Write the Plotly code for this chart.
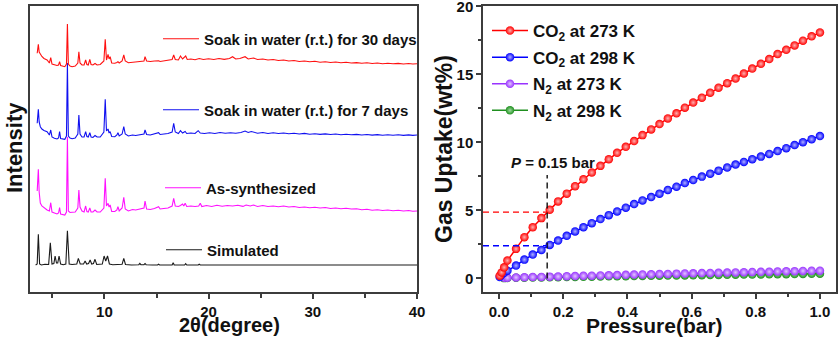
import plotly.graph_objects as go

# ---------------- XRD data (2theta in degree, stacked intensity in a.u.) ----------------
sim_points = [(3.4, 27), (3.55, 28), (3.66, 57.7), (3.78, 28), (3.95, 27), (4.3, 27.8), (4.65, 27.5),
              (4.81, 49.3), (4.97, 28), (5.15, 28.5), (5.27, 36), (5.4, 29), (5.52, 29), (5.65, 36),
              (5.8, 28), (6.05, 27.3), (6.3, 28), (6.45, 61.3), (6.62, 28), (6.9, 27.5), (7.35, 28),
              (7.5, 33.7), (7.68, 28), (8.0, 28), (8.15, 31), (8.3, 28), (8.48, 28.5), (8.63, 32),
              (8.78, 28), (8.95, 28.5), (9.1, 32.7), (9.26, 27.5), (9.8, 28), (9.97, 36), (10.13, 31),
              (10.3, 36), (10.48, 28), (10.8, 27.3), (11.7, 27.8), (11.86, 33.7), (12.02, 27.5),
              (12.6, 27), (13.3, 27.3), (13.4, 28.7), (13.5, 27.3), (13.8, 27.3), (13.9, 28.5),
              (14.0, 27.3), (14.6, 27), (15.1, 27), (15.2, 27.8), (15.3, 27), (16.5, 27), (16.6, 29.3),
              (16.7, 27), (17.7, 27), (17.8, 28.3), (17.9, 27), (19.0, 27), (19.1, 27.8), (19.2, 27),
              (40.0, 27)]

as_points = [(3.55, 101), (3.6, 110), (3.66, 122.7), (3.74, 100), (3.85, 89), (4.0, 86), (4.2, 84),
             (4.5, 82), (4.72, 81), (4.85, 89.3), (4.97, 80), (5.2, 78.7), (5.45, 78), (5.6, 79),
             (5.7, 84.3), (5.8, 78), (6.05, 77.5), (6.2, 77), (6.36, 80), (6.45, 155), (6.54, 81),
             (6.7, 79.5), (6.9, 79.7), (7.2, 80), (7.45, 84), (7.55, 102), (7.66, 85), (7.85, 81),
             (8.05, 80), (8.2, 86), (8.32, 80.5), (8.45, 80), (8.6, 84), (8.72, 80), (8.9, 80),
             (9.1, 82), (9.3, 80), (9.6, 80), (9.95, 84), (10.08, 113.7), (10.2, 86), (10.35, 88.7),
             (10.45, 85), (10.55, 87), (10.7, 80.5), (11.0, 80.5), (11.2, 82), (11.3, 85.3),
             (11.42, 81), (11.7, 84), (11.86, 94.7), (12.0, 83), (12.3, 81), (12.7, 82.5), (13.0, 82),
             (13.4, 83), (13.8, 84), (13.9, 91), (14.05, 83), (14.4, 82.5), (14.8, 83.5), (15.2, 85.3),
             (15.35, 83), (15.7, 83.5), (16.1, 84), (16.5, 86), (16.65, 93.7), (16.8, 86), (17.1, 85.5),
             (17.3, 86.5), (17.5, 88), (17.62, 86), (17.75, 88.7), (17.9, 85.5), (18.3, 86),
             (18.7, 85.5), (19.05, 86), (19.2, 88.7), (19.35, 85.5), (19.8, 86.5), (20.3, 85.5),
             (20.8, 86.8), (21.3, 85.8), (21.8, 86.5), (22.3, 86), (22.8, 86.8), (23.3, 85.6),
             (23.6, 87), (24.0, 86), (24.3, 87), (24.7, 85.5), (25.2, 86.5), (25.7, 85.5), (26.2, 86),
             (26.7, 85.2), (27.2, 86), (27.7, 85), (28.2, 85.5), (28.7, 84.5), (29.2, 85), (29.7, 84.2),
             (30.2, 84.8), (30.7, 84), (31.2, 84.5), (31.7, 83.5), (32.2, 84), (32.7, 83.2),
             (33.2, 83.8), (33.7, 83), (34.2, 83.2), (34.7, 82.2), (35.2, 82.8), (35.7, 81.8),
             (36.2, 82.3), (36.7, 81.5), (37.2, 82), (37.7, 81.2), (38.2, 81.8), (38.7, 81),
             (39.2, 81.5), (39.6, 80.8), (40.0, 81)]

d7_points = [(3.55, 168.7), (3.6, 175), (3.66, 182.7), (3.74, 170), (3.85, 165.3), (4.0, 163),
             (4.2, 161.5), (4.5, 160.3), (4.72, 157), (4.85, 162), (4.97, 155), (5.2, 153.7),
             (5.45, 153), (5.6, 154), (5.7, 160.3), (5.8, 153.5), (6.05, 153), (6.2, 152.7),
             (6.36, 156), (6.45, 229), (6.54, 156), (6.7, 154), (6.9, 153.3), (7.2, 154), (7.45, 158),
             (7.55, 177), (7.66, 158), (7.85, 155), (8.05, 155), (8.2, 160.3), (8.32, 155.5),
             (8.45, 155), (8.6, 159.3), (8.72, 155), (8.9, 154.7), (9.1, 156.5), (9.3, 155), (9.6, 155),
             (9.95, 160), (10.08, 192.7), (10.2, 161), (10.35, 163), (10.45, 159), (10.55, 160.3),
             (10.7, 155.5), (11.0, 155.3), (11.2, 157), (11.3, 159.3), (11.42, 156), (11.7, 158),
             (11.86, 165.3), (12.0, 158), (12.3, 156), (12.7, 157), (13.0, 156.5), (13.4, 157.5),
             (13.8, 158), (13.9, 162), (14.05, 157.5), (14.4, 157), (14.8, 158), (15.2, 159.3),
             (15.35, 157.5), (15.7, 158), (16.1, 158.5), (16.5, 160), (16.65, 168.7), (16.8, 160),
             (17.1, 158.5), (17.3, 161.3), (17.5, 159), (17.75, 160.5), (17.9, 158.5), (18.3, 159),
             (18.7, 158.5), (19.0, 161.3), (19.2, 159), (19.6, 158.5), (20.1, 159.3), (20.6, 158.5),
             (21.1, 159.5), (21.6, 158.7), (22.1, 159.3), (22.6, 158.8), (23.1, 159.5), (23.5, 161),
             (23.8, 159.5), (24.1, 160.5), (24.3, 159.8), (24.7, 158.8), (25.2, 159.5), (25.7, 158.5),
             (26.2, 159.2), (26.7, 158.5), (27.2, 159), (27.7, 158.2), (28.2, 158.8), (28.7, 158),
             (29.2, 158.6), (29.7, 157.8), (30.2, 158.3), (30.7, 157.6), (31.2, 158.1), (31.7, 157.5),
             (32.2, 158), (32.7, 157.3), (33.2, 157.8), (33.7, 157.2), (34.2, 157.6), (34.7, 157),
             (35.2, 157.5), (35.7, 156.9), (36.2, 157.4), (36.7, 156.8), (37.2, 157.3), (37.7, 156.7),
             (38.2, 157.2), (38.7, 156.6), (39.2, 157.1), (39.6, 156.6), (40.0, 157)]

d30_points = [(3.55, 238.7), (3.6, 243), (3.66, 247.7), (3.74, 240), (3.85, 237.7), (4.0, 235.5),
              (4.2, 233.5), (4.5, 232), (4.72, 229), (4.85, 234.3), (4.97, 228), (5.2, 227),
              (5.45, 226.5), (5.6, 227), (5.7, 230.3), (5.8, 226.5), (6.05, 226), (6.2, 225.3),
              (6.36, 228), (6.45, 268), (6.54, 228), (6.7, 226), (6.9, 225.3), (7.2, 226), (7.45, 229),
              (7.55, 240.3), (7.66, 229), (7.85, 227), (8.05, 227), (8.2, 232), (8.32, 227.5),
              (8.45, 227), (8.6, 232.7), (8.72, 227.5), (8.9, 227), (9.1, 228.5), (9.3, 227),
              (9.6, 227.5), (9.95, 231), (10.08, 252.7), (10.2, 232), (10.35, 237.7), (10.45, 233),
              (10.55, 235.3), (10.7, 229), (11.0, 228.7), (11.2, 229.5), (11.3, 230.3), (11.42, 229),
              (11.7, 231), (11.86, 237), (12.0, 231), (12.3, 229.3), (12.7, 230), (13.0, 229.8),
              (13.4, 230.5), (13.8, 231), (13.9, 235.3), (14.05, 231), (14.4, 230.5), (14.8, 231),
              (15.2, 231.3), (15.35, 230.5), (15.7, 231), (16.1, 231.5), (16.5, 232.5), (16.65, 237),
              (16.8, 232.5), (17.1, 232), (17.3, 236), (17.5, 233), (17.8, 236), (17.95, 232.5),
              (18.3, 233), (18.7, 232.3), (19.1, 233.5), (19.5, 232.5), (20.0, 233.3), (20.5, 232.5),
              (21.0, 233.5), (21.5, 232.6), (22.0, 233.5), (22.3, 235.3), (22.6, 233), (23.0, 233.5),
              (23.5, 235.3), (23.8, 233), (24.3, 234), (24.7, 232.5), (25.2, 233), (25.7, 232),
              (26.2, 232.5), (26.7, 231.5), (27.2, 232), (27.7, 231), (28.2, 231.5), (28.7, 230.5),
              (29.2, 231), (29.7, 230.2), (30.2, 230.7), (30.7, 229.8), (31.2, 230.3), (31.7, 229.5),
              (32.2, 230), (32.7, 229.2), (33.2, 229.7), (33.7, 229), (34.2, 229.4), (34.7, 228.7),
              (35.2, 229.2), (35.7, 228.5), (36.2, 229), (36.7, 228.3), (37.2, 228.8), (37.7, 228.2),
              (38.2, 228.6), (38.7, 228), (39.2, 228.5), (39.6, 228), (40.0, 228.2)]

xrd_names = ["Simulated", "As-synthesized", "Soak in water (r.t.) for 7 days",
             "Soak in water (r.t.) for 30 days"]
xrd_colors = ["#1a1a1a", "#ff10ff", "#1010f0", "#ff1010"]

# ---------------- Gas sorption data (pressure in bar, uptake in wt%) ----------------
p_co2 = [0.002, 0.008, 0.016, 0.026, 0.053, 0.079, 0.105, 0.132, 0.158, 0.184, 0.211, 0.237, 0.263,
         0.289, 0.316, 0.342, 0.368, 0.395, 0.421, 0.447, 0.474, 0.5, 0.526, 0.553, 0.579, 0.605,
         0.632, 0.658, 0.684, 0.711, 0.737, 0.763, 0.789, 0.816, 0.842, 0.868, 0.895, 0.921, 0.947,
         0.974, 1.0]
co2_273 = [0.2, 0.44, 0.81, 1.31, 2.17, 3.03, 3.76, 4.43, 5.05, 5.66, 6.23, 6.77, 7.28, 7.78, 8.27,
           8.76, 9.23, 9.67, 10.09, 10.53, 10.95, 11.34, 11.76, 12.13, 12.55, 12.92, 13.28, 13.65,
           14.02, 14.35, 14.69, 15.06, 15.42, 15.77, 16.12, 16.49, 16.8, 17.12, 17.47, 17.79, 18.08]
co2_298 = [0.1, 0.27, 0.42, 0.57, 0.94, 1.38, 1.75, 2.09, 2.46, 2.78, 3.13, 3.45, 3.76, 4.06, 4.36,
           4.65, 4.92, 5.2, 5.46, 5.73, 5.98, 6.23, 6.5, 6.74, 7.01, 7.23, 7.48, 7.7, 7.92, 8.15,
           8.37, 8.56, 8.76, 8.95, 9.15, 9.36, 9.57, 9.8, 10.01, 10.23, 10.46]
p_n2 = [0.016, 0.026, 0.053, 0.079, 0.105, 0.132, 0.158, 0.184, 0.211, 0.237, 0.263, 0.289, 0.316,
        0.342, 0.368, 0.395, 0.421, 0.447, 0.474, 0.5, 0.526, 0.553, 0.579, 0.605, 0.632, 0.658,
        0.684, 0.711, 0.737, 0.763, 0.789, 0.816, 0.842, 0.868, 0.895, 0.921, 0.947, 0.974, 1.0]
n2_273 = [0.04, 0.05, 0.07, 0.08, 0.1, 0.11, 0.13, 0.14, 0.16, 0.17, 0.19, 0.2, 0.22, 0.23, 0.25,
          0.26, 0.28, 0.29, 0.3, 0.32, 0.33, 0.35, 0.36, 0.37, 0.39, 0.4, 0.41, 0.43, 0.44, 0.45,
          0.47, 0.48, 0.49, 0.51, 0.52, 0.53, 0.55, 0.56, 0.57]
n2_298 = [0.02, 0.03, 0.04, 0.05, 0.06, 0.07, 0.08, 0.09, 0.1, 0.11, 0.12, 0.13, 0.14, 0.15, 0.16,
          0.16, 0.17, 0.18, 0.19, 0.2, 0.21, 0.21, 0.22, 0.23, 0.24, 0.25, 0.25, 0.26, 0.27, 0.28,
          0.28, 0.29, 0.3, 0.31, 0.31, 0.32, 0.33, 0.34, 0.34]

gas_names = ["CO<sub>2</sub> at 273 K", "CO<sub>2</sub> at 298 K", "N<sub>2</sub> at 273 K",
             "N<sub>2</sub> at 298 K"]
gas_colors = ["#ff0000", "#0000ff", "#9933ff", "#1f8f1f"]
gas_highlights = ["#ffb0b0", "#b0b0ff", "#e2c6ff", "#9fdc9f"]

# reference marks at P = 0.15 bar
p_mark = 0.15
mark_top = 7.6
co2_273_at_mark = 4.87
co2_298_at_mark = 2.4

# ---------------- figure ----------------
W, H = 838, 337
FONT = "Liberation Sans"
AX = "#3c3c3c"

fig = go.Figure()

legend_ids = ["legend4", "legend3", "legend2", "legend"]
for pts, name, col, lg in zip([sim_points, as_points, d7_points, d30_points], xrd_names,
                              xrd_colors, legend_ids):
    tx, iy = zip(*pts)
    fig.add_trace(go.Scatter(x=list(tx), y=list(iy), mode="lines", name=name,
                             line=dict(color=col, width=1.1), legend=lg,
                             xaxis="x", yaxis="y"))

gas_x = [p_co2, p_co2, p_n2, p_n2]
gas_y = [co2_273, co2_298, n2_273, n2_298]
order = [3, 2, 1, 0]
for i in order:
    fig.add_trace(go.Scatter(x=gas_x[i], y=gas_y[i], mode="lines+markers", name=gas_names[i],
                             line=dict(color=gas_colors[i], width=1.5),
                             marker=dict(size=8.5, color=gas_colors[i],
                                         gradient=dict(type="radial", color=gas_highlights[i]),
                                         line=dict(width=0)),
                             legend="legend5", legendrank=i + 1, legendgroup=f"g{i}",
                             xaxis="x2", yaxis="y2"))

# dashed guides
fig.add_trace(go.Scatter(x=[p_mark, p_mark], y=[0, mark_top], mode="lines", showlegend=False,
                         line=dict(color="#111111", width=1.4, dash="6px,4px"),
                         xaxis="x2", yaxis="y2"))
fig.add_trace(go.Scatter(x=[-0.05, p_mark], y=[co2_273_at_mark, co2_273_at_mark], mode="lines",
                         showlegend=False, line=dict(color="#ff0000", width=1.4, dash="6px,4px"),
                         xaxis="x2", yaxis="y2"))
fig.add_trace(go.Scatter(x=[-0.05, p_mark], y=[co2_298_at_mark, co2_298_at_mark], mode="lines",
                         showlegend=False, line=dict(color="#0000ff", width=1.4, dash="6px,4px"),
                         xaxis="x2", yaxis="y2"))


def px_x(px):
    return px / W


def px_y(py):
    return 1 - py / H


tickfont = dict(family=FONT, size=15, color="#111111", weight="bold")
common = dict(showline=True, linecolor=AX, linewidth=1.5, mirror=True, showgrid=False,
              zeroline=False, ticks="outside", tickcolor=AX, tickwidth=1.5, ticklen=5,
              tickfont=tickfont, automargin=False)

leg_font_l = dict(family=FONT, size=15, color="#111111", weight="bold")
leg_font_r = dict(family=FONT, size=17, color="#111111", weight="bold")
leg_common = dict(bgcolor="rgba(0,0,0,0)", borderwidth=0, xanchor="left", yanchor="middle",
                  itemclick=False, itemwidth=36)

title_font = dict(family=FONT, size=22, color="#111111", weight="bold")

fig.update_layout(
    width=W, height=H, margin=dict(l=0, r=0, t=0, b=0, autoexpand=False),
    paper_bgcolor="white", plot_bgcolor="white",
    xaxis=dict(domain=[px_x(30), px_x(417)], range=[2.86, 40], tickvals=[10, 20, 30, 40],
               minor=dict(tickvals=[5, 15, 25, 35], ticklen=4, tickcolor=AX, tickwidth=1.5,
                          ticks="outside"),
               anchor="y", **common),
    yaxis=dict(domain=[px_y(292), px_y(6)], range=[0, 286], showline=True, linecolor=AX,
               linewidth=1.5, mirror=True, showgrid=False, zeroline=False, ticks="",
               showticklabels=False, anchor="x", automargin=False),
    xaxis2=dict(domain=[px_x(483), px_x(836)], range=[-0.05, 1.05], dtick=0.2, tick0=0,
                tickformat=".1f",
                minor=dict(dtick=0.1, ticklen=3, tickcolor=AX, tickwidth=1.5, ticks="outside"),
                anchor="y2", **common),
    yaxis2=dict(domain=[px_y(292), px_y(6)], range=[-1, 20.02], tickvals=[0, 5, 10, 15, 20],
                minor=dict(dtick=2.5, ticklen=3, tickcolor=AX, tickwidth=1.5, ticks="outside"),
                anchor="x2", ticklabeloverflow="allow", **common),
    legend=dict(x=px_x(158), y=px_y(39), font=leg_font_l, **leg_common),
    legend2=dict(x=px_x(158), y=px_y(110), font=leg_font_l, **leg_common),
    legend3=dict(x=px_x(160), y=px_y(188), font=leg_font_l, **leg_common),
    legend4=dict(x=px_x(161), y=px_y(250), font=leg_font_l, **leg_common),
    legend5=dict(x=px_x(487), y=px_y(13), font=leg_font_r, bgcolor="rgba(0,0,0,0)",
                 borderwidth=0, xanchor="left", yanchor="top", traceorder="grouped",
                 tracegroupgap=1.5, itemclick=False, itemwidth=36),
    annotations=[
        dict(text="Intensity", x=px_x(14), y=px_y(148), xref="paper", yref="paper",
             xanchor="center", yanchor="middle", textangle=-90, showarrow=False,
             font=title_font),
        dict(text="2θ(degree)", x=px_x(230), y=px_y(325), xref="paper", yref="paper",
             xanchor="center", yanchor="middle", showarrow=False,
             font=dict(family=FONT, size=20, color="#111111", weight="bold")),
        dict(text="Gas Uptake(wt%)", x=px_x(444), y=px_y(149), xref="paper", yref="paper",
             xanchor="center", yanchor="middle", textangle=-90, showarrow=False,
             font=dict(family=FONT, size=23, color="#111111", weight="bold")),
        dict(text="Pressure(bar)", x=px_x(654), y=px_y(325), xref="paper", yref="paper",
             xanchor="center", yanchor="middle", showarrow=False,
             font=dict(family=FONT, size=21, color="#111111", weight="bold")),
        dict(text="<i>P</i> = 0.15 bar", x=0.167, y=8.5, xref="x2", yref="y2",
             xanchor="center", yanchor="middle", showarrow=False,
             font=dict(family=FONT, size=15, color="#111111", weight="bold")),
    ],
)

fig.write_html("out.html")
